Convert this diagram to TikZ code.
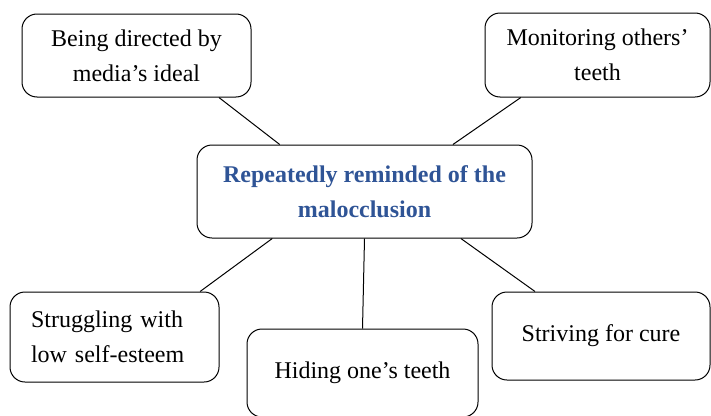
\documentclass[tikz,border=0pt]{standalone}
\usepackage{fontspec}
\setmainfont{Liberation Serif}
\definecolor{hubblue}{RGB}{47,84,150}
\usetikzlibrary{positioning}

\begin{document}
\begin{tikzpicture}
    [x=1pt,y=-1pt,every node/.style={draw, line width=1pt, rounded corners=15pt, align=center, inner sep=0pt,
      font=\fontsize{24}{35}\selectfont}]
  \clip (0,0) rectangle (711,415);
  \node[minimum width=229pt, minimum height=83pt] (media) at (136.5,55.5) {Being directed by\\media’s ideal};
  \node[minimum width=225pt, minimum height=84pt] (others) at (597.5,55) {Monitoring others’\\teeth};
  \node[minimum width=335pt, minimum height=93pt, text=hubblue, font=\fontsize{24}{35}\selectfont\bfseries] (hub) at (364.5,191.5) {Repeatedly reminded of the\\malocclusion};
  \node[minimum height=90pt, text width=167pt, inner xsep=21pt, align=left] (esteem) at (114.5,337) {Struggling with\\low self-esteem};
  \node[minimum width=231pt, minimum height=88pt] (hiding) at (362.5,373) {Hiding one’s teeth};
  \node[minimum width=218pt, minimum height=88pt] (cure) at (601,336) {Striving for cure};

  \foreach \from/\to in {hub.151/media.-27, hub.28/others.-151, hub.207.5/esteem.28, hub.south/hiding.north, hub.-26.4/cure.146}
    \draw (\from) edge[line width=1pt] (\to);
\end{tikzpicture}
\end{document}
